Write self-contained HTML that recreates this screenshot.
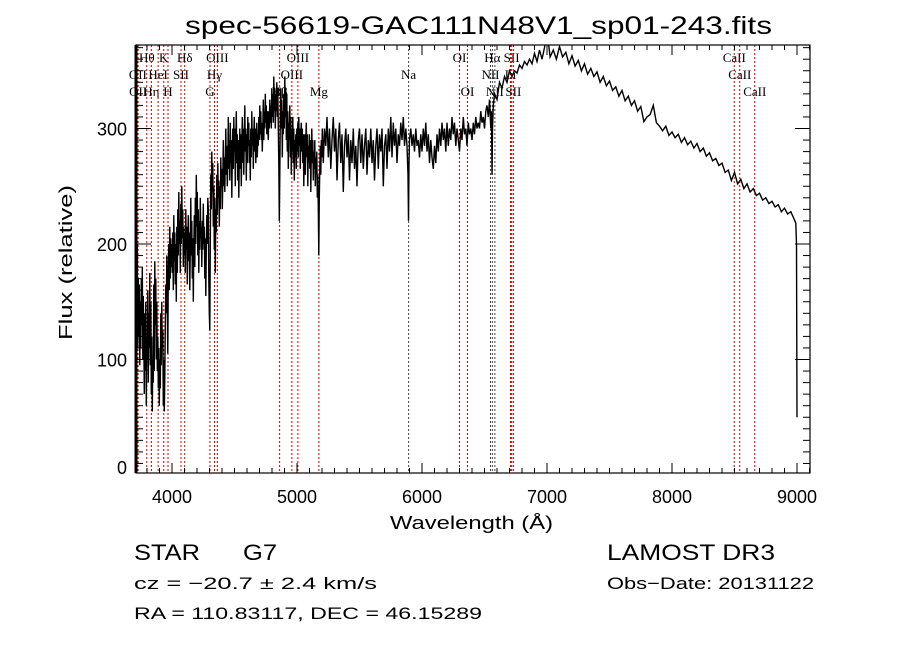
<!DOCTYPE html>
<html><head><meta charset="utf-8"><style>
html,body{margin:0;padding:0;background:#fff;}
svg{display:block;}
</style></head><body>
<svg id="chart" width="900" height="649" xmlns="http://www.w3.org/2000/svg">
<rect x="0" y="0" width="900" height="649" fill="#fff"/>
<text x="185" y="34" font-family="Liberation Sans, sans-serif" font-size="25" textLength="587" lengthAdjust="spacingAndGlyphs">spec-56619-GAC111N48V1_sp01-243.fits</text>
<defs><clipPath id="plotclip"><rect x="136" y="45" width="674" height="428"/></clipPath></defs>
<g id="lines"></g>
<g id="spec" clip-path="url(#plotclip)"></g>
<g id="axes"></g>
<text x="390" y="529" font-family="Liberation Sans, sans-serif" font-size="18" textLength="163" lengthAdjust="spacingAndGlyphs">Wavelength (Å)</text>
<text transform="translate(72,340) rotate(-90)" font-family="Liberation Sans, sans-serif" font-size="18" textLength="155" lengthAdjust="spacingAndGlyphs">Flux (relative)</text>
<g font-family="Liberation Sans, sans-serif">
<text x="134" y="560" font-size="22" textLength="66" lengthAdjust="spacingAndGlyphs">STAR</text>
<text x="243" y="560" font-size="22" textLength="34" lengthAdjust="spacingAndGlyphs">G7</text>
<text x="134" y="589" font-size="17" textLength="243" lengthAdjust="spacingAndGlyphs">cz = −20.7 ± 2.4 km/s</text>
<text x="134" y="619" font-size="17" textLength="348" lengthAdjust="spacingAndGlyphs">RA = 110.83117, DEC =  46.15289</text>
<text x="607" y="560" font-size="22" textLength="168" lengthAdjust="spacingAndGlyphs">LAMOST DR3</text>
<text x="607" y="589" font-size="17" textLength="207" lengthAdjust="spacingAndGlyphs">Obs−Date: 20131122</text>
</g>
</svg>
<script>
// ---- data ----
const wavelengths = [3705,3707,3710,3714,3718,3722,3726,3730,3734,3738,3742,3746,3750,3754,3758,3762,3766,3770,3774,3778,3782,3786,3790,3794,3798,3802,3806,3810,3814,3818,3822,3826,3830,3834,3838,3842,3846,3850,3854,3858,3862,3866,3870,3874,3878,3882,3886,3890,3894,3898,3902,3906,3910,3914,3918,3922,3926,3930,3934,3938,3942,3946,3950,3954,3958,3962,3966,3970,3974,3978,3982,3986,3990,3994,3998,4002,4006,4010,4014,4018,4022,4026,4030,4034,4038,4042,4046,4050,4054,4058,4062,4066,4070,4074,4078,4082,4086,4090,4094,4098,4102,4106,4110,4114,4118,4122,4126,4130,4134,4138,4142,4146,4150,4154,4158,4162,4166,4170,4174,4178,4182,4186,4190,4194,4198,4202,4206,4210,4214,4218,4222,4226,4230,4234,4238,4242,4246,4250,4254,4258,4262,4266,4270,4274,4278,4282,4286,4290,4294,4298,4302,4306,4310,4314,4318,4322,4326,4330,4334,4338,4342,4346,4350,4354,4358,4362,4366,4370,4374,4378,4382,4386,4390,4394,4398,4402,4406,4410,4414,4418,4422,4426,4430,4434,4438,4442,4446,4450,4454,4458,4462,4466,4470,4474,4478,4482,4486,4490,4494,4498,4502,4506,4510,4514,4518,4522,4526,4530,4534,4538,4542,4546,4550,4554,4558,4562,4566,4570,4574,4578,4582,4586,4590,4594,4598,4602,4606,4610,4614,4618,4622,4626,4630,4634,4638,4642,4646,4650,4654,4658,4662,4666,4670,4674,4678,4682,4686,4690,4694,4698,4702,4706,4710,4714,4718,4722,4726,4730,4734,4738,4742,4746,4750,4754,4758,4762,4766,4770,4774,4778,4782,4786,4790,4794,4798,4802,4806,4810,4814,4818,4822,4826,4830,4834,4838,4842,4846,4850,4854,4858,4862,4866,4870,4874,4878,4882,4886,4890,4894,4898,4902,4906,4910,4914,4918,4922,4926,4930,4934,4938,4942,4946,4950,4954,4958,4962,4966,4970,4974,4978,4982,4986,4990,4994,4998,5002,5006,5010,5014,5018,5022,5026,5030,5034,5038,5042,5046,5050,5054,5058,5062,5066,5070,5074,5078,5082,5086,5090,5094,5098,5102,5106,5110,5114,5118,5122,5126,5130,5134,5138,5142,5146,5150,5154,5158,5162,5166,5170,5174,5178,5182,5186,5190,5194,5198,5202,5210,5220,5230,5240,5250,5260,5270,5280,5290,5300,5310,5320,5330,5340,5350,5360,5370,5380,5390,5400,5410,5420,5430,5440,5450,5460,5470,5480,5490,5500,5510,5520,5530,5540,5550,5560,5570,5580,5590,5600,5610,5620,5630,5640,5650,5660,5670,5680,5690,5700,5710,5720,5730,5740,5750,5760,5770,5780,5790,5800,5810,5820,5830,5840,5850,5860,5870,5880,5888,5892,5896,5900,5910,5920,5930,5940,5950,5960,5970,5980,5990,6000,6010,6020,6030,6040,6050,6060,6070,6080,6090,6100,6110,6120,6130,6140,6150,6160,6170,6180,6190,6200,6210,6220,6230,6240,6250,6260,6270,6280,6290,6300,6310,6320,6330,6340,6350,6360,6370,6380,6390,6400,6410,6420,6430,6440,6450,6460,6470,6480,6490,6500,6510,6520,6530,6540,6550,6556,6560,6564,6570,6580,6600,6620,6640,6660,6680,6700,6720,6740,6760,6780,6800,6820,6840,6860,6880,6900,6920,6940,6960,6980,7000,7025,7050,7075,7100,7125,7150,7175,7200,7225,7250,7275,7300,7325,7350,7375,7400,7425,7450,7475,7500,7525,7550,7575,7600,7625,7650,7675,7700,7725,7750,7775,7800,7825,7850,7875,7900,7925,7950,7975,8000,8025,8050,8075,8100,8125,8150,8175,8200,8225,8250,8275,8300,8325,8350,8375,8400,8425,8450,8475,8500,8525,8550,8575,8600,8625,8650,8675,8700,8725,8750,8775,8800,8825,8850,8875,8900,8925,8950,8975,8990,8996,9000];
const fluxes = [10,280,240,290,150,200,110,170,120,165,95,150,110,170,130,180,100,155,120,70,140,90,150,60,120,100,160,80,140,110,175,95,150,70,120,55,100,80,165,90,185,130,170,100,150,90,120,75,110,60,100,75,140,95,150,110,125,60,100,55,85,130,165,140,190,145,105,175,200,160,215,170,205,180,200,175,210,160,225,185,210,165,200,150,215,175,230,190,245,200,220,175,235,200,250,205,230,180,215,190,210,175,230,195,215,165,200,225,185,210,160,195,240,190,220,170,205,150,195,225,180,240,200,260,215,245,190,230,175,220,195,240,205,215,180,220,195,235,200,215,170,205,155,195,225,200,240,230,170,140,125,200,260,230,280,245,270,215,250,195,240,175,230,210,260,225,270,240,255,215,250,230,275,250,265,230,255,290,250,275,245,270,300,260,285,250,270,310,265,290,255,305,270,290,240,275,300,265,310,280,300,250,285,315,270,295,255,290,240,275,300,265,295,250,285,310,270,300,260,295,320,280,300,255,295,270,310,285,305,270,290,255,300,275,315,285,300,265,295,310,280,300,270,290,305,275,295,285,310,290,320,295,315,290,305,280,300,325,290,315,300,330,305,320,295,315,300,290,315,300,325,305,320,300,335,310,330,305,345,315,335,300,330,315,340,310,335,300,270,220,260,310,335,300,325,275,315,295,330,300,345,310,335,290,330,280,315,265,305,290,320,275,310,260,300,280,310,270,300,255,290,275,295,265,300,280,305,275,310,285,300,265,295,305,280,300,270,295,250,285,295,260,290,305,275,295,250,285,270,295,265,290,245,280,300,270,290,255,280,265,290,250,275,260,280,240,260,230,190,240,265,285,260,290,275,300,270,300,285,310,275,300,265,290,310,280,300,255,290,305,270,295,245,285,300,275,295,255,290,270,300,265,285,250,290,300,270,295,265,285,300,260,290,275,300,270,290,255,285,300,265,295,280,300,250,285,295,265,300,280,310,275,305,285,300,270,295,285,305,290,310,285,300,285,260,220,270,290,300,285,295,280,300,285,290,275,295,280,300,285,305,280,295,270,290,275,265,285,270,295,280,300,285,305,290,300,280,305,285,300,290,310,295,305,285,300,290,280,300,290,310,295,300,285,305,295,300,290,305,295,310,300,305,300,315,305,310,300,315,320,310,325,300,315,260,300,320,330,325,340,335,345,340,350,345,350,348,355,352,358,355,360,356,365,358,368,360,370,385,362,368,360,371,362,366,356,363,354,359,350,356,347,352,345,349,340,345,337,341,333,336,328,333,324,328,320,324,315,319,306,310,312,320,305,302,298,302,294,297,292,295,288,292,286,289,283,287,280,283,276,279,272,274,268,270,262,264,255,262,252,256,248,252,245,248,242,244,238,240,235,237,232,234,228,231,226,228,222,218,200,50];
const xTickLabels = ["4000","5000","6000","7000","8000","9000"];
const yTickLabels = ["0","100","200","300"];
const lineNames = ["OII","OII","Hθ","Hη","HeI","K","H","SII","Hδ","G","Hγ","OIII","Hβ","OIII","OIII","Mg","Na","OI","OI","NII","Hα","NII","Li","SII","SII","CaII","CaII","CaII"];
const lineWaves = [3727,3729,3798,3835,3889,3934,3968,4072,4102,4304,4340,4363,4861,4959,5007,5175,5893,6300,6364,6548,6563,6583,6708,6717,6731,8498,8542,8662];
const lineRows = [2,3,1,3,2,1,3,2,1,3,2,1,3,2,1,3,2,1,3,2,1,3,2,1,3,1,2,3];

// ---- axis functions ----
const X0=136, X1=810, Y0=45, Y1=473;
function xScale(w){ return 172 + (w-4000)*0.125; }
function yScale(f){ return 475 - f*1.155; }
const NS="http://www.w3.org/2000/svg";
function mk(tag, attrs, parent){ const e=document.createElementNS(NS,tag); for(const k in attrs) e.setAttribute(k,attrs[k]); parent.appendChild(e); return e; }

// spectrum
const specG=document.getElementById('spec');
let d="";
for(let i=0;i<wavelengths.length;i++){ d+=(i?"L":"M")+xScale(wavelengths[i]).toFixed(1)+","+yScale(fluxes[i]).toFixed(1); }
const p=mk('path',{d:d,fill:'none',stroke:'#000','stroke-width':'1.4','stroke-linejoin':'miter'},specG);



// spectral lines
const linesG=document.getElementById('lines');
const rowY={1:62,2:79,3:96};
for(let i=0;i<lineWaves.length;i++){
  const x=xScale(lineWaves[i]);
  const dark=(lineNames[i]==="Na"||lineNames[i]==="Hα"||lineNames[i]==="NII");
  const ln=mk('line',{x1:x,y1:Y0,x2:x,y2:Y1,stroke:dark?'#444':'#c00','stroke-width':'1','stroke-dasharray':'2,2'},linesG);
  
  
  const t=mk('text',{x:x,y:rowY[lineRows[i]],'text-anchor':'middle','font-family':'Liberation Serif, serif','font-size':'13'},linesG);
  t.textContent=lineNames[i];
  
  
}

// axes
const axG=document.getElementById('axes');
const frame=mk('rect',{x:X0,y:Y0,width:X1-X0,height:Y1-Y0,fill:'none',stroke:'#000','stroke-width':'1.2'},axG);


mk('line',{x1:X0,y1:Y0,x2:X0,y2:Y1,stroke:'#000','stroke-width':'3'},axG);
for(let w=3800; w<=9100; w+=100){
  const x=xScale(w); const major=(w%1000===0);
  const L=major?10:5;
  mk('line',{x1:x,y1:Y1,x2:x,y2:Y1-L,stroke:'#000','stroke-width':'1'},axG);
  mk('line',{x1:x,y1:Y0,x2:x,y2:Y0+L,stroke:'#000','stroke-width':'1'},axG);
}
xTickLabels.forEach(s=>{
  const t=mk('text',{x:xScale(+s),y:503,'text-anchor':'middle','font-family':'Liberation Sans, sans-serif','font-size':'18'},axG);
  t.textContent=s;
  
  
});
for(let f=0; f<=370; f+=10){
  const y=yScale(f); if(y>Y1) continue; const major=(f%100===0);
  const L=major?15:7;
  mk('line',{x1:X0,y1:y,x2:X0+L,y2:y,stroke:'#000','stroke-width':'1'},axG);
  mk('line',{x1:X1,y1:y,x2:X1-L,y2:y,stroke:'#000','stroke-width':'1'},axG);
}
yTickLabels.forEach(s=>{
  const y=Math.min(yScale(+s),467);
  const t=mk('text',{x:127,y:y+7,'text-anchor':'end','font-family':'Liberation Sans, sans-serif','font-size':'18'},axG);
  t.textContent=s;
  
  
});
</script>
</body></html>
